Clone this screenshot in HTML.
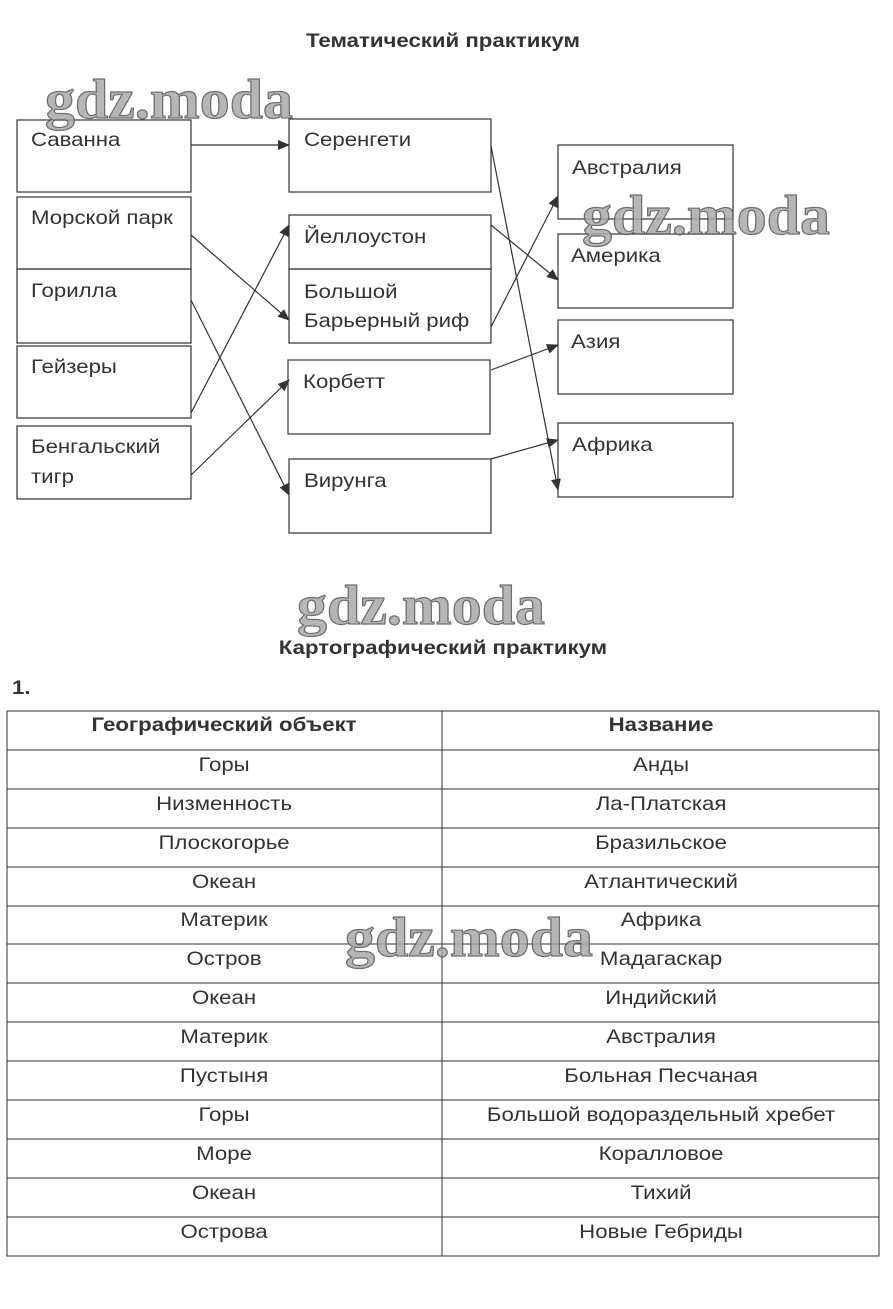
<!DOCTYPE html>
<html><head><meta charset="utf-8"><style>
html,body{margin:0;padding:0;background:#fff;}
svg{display:block;}
.t{font-family:"Liberation Sans",sans-serif;font-size:19px;fill:#333;}
.h{font-family:"Liberation Sans",sans-serif;font-size:19px;font-weight:bold;fill:#333;}
.w{font-family:"Liberation Serif",serif;font-size:56px;font-weight:bold;fill:#aaa;stroke:#555;stroke-width:1.2;opacity:0.85;}
</style></head><body>
<svg width="893" height="1309" viewBox="0 0 893 1309" xmlns="http://www.w3.org/2000/svg">
<defs><marker id="a" markerWidth="12" markerHeight="10" refX="11" refY="5" orient="auto" markerUnits="userSpaceOnUse"><path d="M0,0 L12,5 L0,10 z" fill="#333"/></marker></defs>
<g fill="none" stroke="#333" stroke-width="1.2">
<rect x="17" y="120" width="174" height="72"/>
<rect x="17" y="197" width="174" height="72"/>
<rect x="17" y="269" width="174" height="74"/>
<rect x="17" y="346" width="174" height="72"/>
<rect x="17" y="426" width="174" height="73"/>
<rect x="289" y="119" width="202" height="73"/>
<rect x="289" y="215" width="202" height="54"/>
<rect x="289" y="269" width="202" height="74"/>
<rect x="288" y="360" width="202" height="74"/>
<rect x="289" y="459" width="202" height="74"/>
<rect x="558" y="145" width="175" height="74"/>
<rect x="558" y="234" width="175" height="74"/>
<rect x="558" y="320" width="175" height="74"/>
<rect x="558" y="423" width="175" height="74"/>
</g>
<g stroke="#333" stroke-width="1.2" marker-end="url(#a)">
<line x1="191" y1="145" x2="289" y2="145"/>
<line x1="191" y1="235" x2="289" y2="320"/>
<line x1="191" y1="300" x2="289" y2="495"/>
<line x1="191" y1="413" x2="289" y2="225"/>
<line x1="191" y1="475" x2="289" y2="380"/>
<line x1="491" y1="146" x2="558" y2="490"/>
<line x1="491" y1="225" x2="558" y2="280"/>
<line x1="491" y1="327" x2="558" y2="196"/>
<line x1="491" y1="370" x2="558" y2="345"/>
<line x1="491" y1="459" x2="558" y2="440"/>
</g>
<g stroke="#333" stroke-width="1" fill="none">
<rect x="7" y="711" width="872" height="545"/>
<line x1="442" y1="711" x2="442" y2="1256"/>
<line x1="7" y1="750" x2="879" y2="750"/>
<line x1="7" y1="789" x2="879" y2="789"/>
<line x1="7" y1="828" x2="879" y2="828"/>
<line x1="7" y1="867" x2="879" y2="867"/>
<line x1="7" y1="906" x2="879" y2="906"/>
<line x1="7" y1="944" x2="879" y2="944"/>
<line x1="7" y1="983" x2="879" y2="983"/>
<line x1="7" y1="1022" x2="879" y2="1022"/>
<line x1="7" y1="1061" x2="879" y2="1061"/>
<line x1="7" y1="1100" x2="879" y2="1100"/>
<line x1="7" y1="1139" x2="879" y2="1139"/>
<line x1="7" y1="1178" x2="879" y2="1178"/>
<line x1="7" y1="1217" x2="879" y2="1217"/>
</g>
<g transform="scale(1.17,1)">
<text class="h" x="378.6" y="47" text-anchor="middle">Тематический практикум</text>
<text class="t" x="26.5" y="146">Саванна</text>
<text class="t" x="26.5" y="224">Морской парк</text>
<text class="t" x="26.5" y="297">Горилла</text>
<text class="t" x="26.5" y="373">Гейзеры</text>
<text class="t" x="26.5" y="453">Бенгальский</text>
<text class="t" x="26.5" y="483">тигр</text>
<text class="t" x="259.8" y="146">Серенгети</text>
<text class="t" x="259.8" y="243">Йеллоустон</text>
<text class="t" x="259.8" y="298">Большой</text>
<text class="t" x="259.8" y="327">Барьерный риф</text>
<text class="t" x="259" y="388">Корбетт</text>
<text class="t" x="259.8" y="487">Вирунга</text>
<text class="t" x="488.9" y="174">Австралия</text>
<text class="t" x="488" y="262">Америка</text>
<text class="t" x="488" y="348">Азия</text>
<text class="t" x="488.9" y="451">Африка</text>
<text class="h" x="378.6" y="654" text-anchor="middle">Картографический практикум</text>
<text class="h" x="10.3" y="694">1.</text>
<g text-anchor="middle">
<text class="h" x="191.5" y="731">Географический объект</text>
<text class="h" x="565" y="731">Название</text>
<text class="t" x="191.5" y="771">Горы</text><text class="t" x="565" y="771">Анды</text>
<text class="t" x="191.5" y="810">Низменность</text><text class="t" x="565" y="810">Ла-Платская</text>
<text class="t" x="191.5" y="849">Плоскогорье</text><text class="t" x="565" y="849">Бразильское</text>
<text class="t" x="191.5" y="888">Океан</text><text class="t" x="565" y="888">Атлантический</text>
<text class="t" x="191.5" y="926">Материк</text><text class="t" x="565" y="926">Африка</text>
<text class="t" x="191.5" y="965">Остров</text><text class="t" x="565" y="965">Мадагаскар</text>
<text class="t" x="191.5" y="1004">Океан</text><text class="t" x="565" y="1004">Индийский</text>
<text class="t" x="191.5" y="1043">Материк</text><text class="t" x="565" y="1043">Австралия</text>
<text class="t" x="191.5" y="1082">Пустыня</text><text class="t" x="565" y="1082">Больная Песчаная</text>
<text class="t" x="191.5" y="1121">Горы</text><text class="t" x="565" y="1121">Большой водораздельный хребет</text>
<text class="t" x="191.5" y="1160">Море</text><text class="t" x="565" y="1160">Коралловое</text>
<text class="t" x="191.5" y="1199">Океан</text><text class="t" x="565" y="1199">Тихий</text>
<text class="t" x="191.5" y="1238">Острова</text><text class="t" x="565" y="1238">Новые Гебриды</text>
</g>
</g>
<text class="w" x="45" y="118" textLength="248" lengthAdjust="spacingAndGlyphs">gdz.moda</text>
<text class="w" x="582" y="234" textLength="248" lengthAdjust="spacingAndGlyphs">gdz.moda</text>
<text class="w" x="297" y="624" textLength="248" lengthAdjust="spacingAndGlyphs">gdz.moda</text>
<text class="w" x="345" y="956" textLength="248" lengthAdjust="spacingAndGlyphs">gdz.moda</text>
</svg>
</body></html>
